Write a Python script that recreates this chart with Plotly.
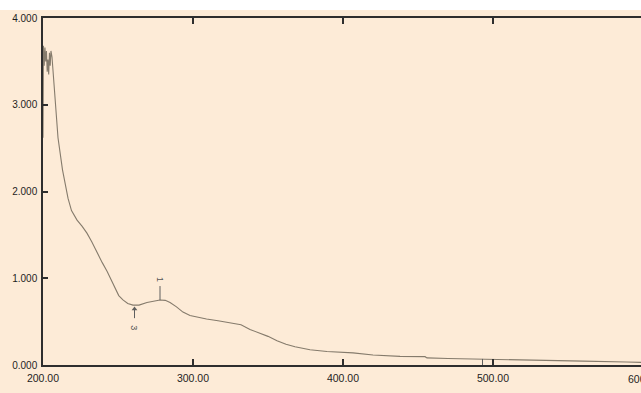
import plotly.graph_objects as go

wavelength = [200, 200.3, 200.8, 201.3, 201.8, 202.3, 202.8, 203.3, 203.8, 204.3, 204.8, 205.3,
              206, 207, 208, 210, 213, 216.7, 219, 222.7, 226, 229.3, 232.5, 236, 239.5, 242.7,
              245.5, 248, 250.5, 253.3, 256.5, 260, 264, 269.3, 274, 278, 281.5, 284.7, 289,
              293.3, 298, 302.7, 309, 316.7, 325, 332, 338, 344.7, 350, 356, 362, 368, 378,
              389.3, 400, 406.7, 420, 438, 454.7, 456, 470, 483, 500, 526.7, 560, 589, 600]
absorbance = [2.62, 3.68, 3.45, 3.66, 3.50, 3.62, 3.38, 3.52, 3.35, 3.60, 3.45, 3.62,
              3.55, 3.30, 3.05, 2.62, 2.25, 1.92, 1.78, 1.67, 1.60, 1.52, 1.42, 1.29, 1.18, 1.08,
              0.98, 0.88, 0.80, 0.75, 0.71, 0.69, 0.69, 0.72, 0.74, 0.75, 0.745, 0.72, 0.67,
              0.61, 0.57, 0.55, 0.53, 0.51, 0.49, 0.465, 0.41, 0.37, 0.33, 0.28, 0.24, 0.21, 0.175,
              0.155, 0.145, 0.14, 0.115, 0.10, 0.096, 0.082, 0.075, 0.07, 0.065, 0.05, 0.045, 0.035, 0.03]

x_ticks = [200, 300, 400, 500, 600]
x_tick_labels = ["200.00", "300.00", "400.00", "500.00", "600.00"]
y_ticks = [0, 1, 2, 3, 4]
y_tick_labels = ["0.000", "1.000", "2.000", "3.000", "4.000"]

peak_label = ("1", 278, 0.75)
valley_label = ("3", 261, 0.69)

curve_color = "#857b6c"
axis_color = "#2e2e2e"
marker_color = "#5e5e5e"
bg = "#fdebd7"
font = dict(family="Liberation Sans, Arial, sans-serif", size=10, color="#1e1e1e")

fig = go.Figure()
fig.add_trace(go.Scatter(x=wavelength, y=absorbance, mode="lines",
                         line=dict(color=curve_color, width=1.1), hoverinfo="skip"))
# small marker line near 493 nm
fig.add_trace(go.Scatter(x=[493, 493], y=[0, 0.07], mode="lines",
                         line=dict(color=marker_color, width=1), hoverinfo="skip"))

# peak marker "1"
fig.add_trace(go.Scatter(x=[peak_label[1], peak_label[1]], y=[peak_label[2], peak_label[2] + 0.16],
                         mode="lines", line=dict(color=marker_color, width=1), hoverinfo="skip"))
fig.add_annotation(x=peak_label[1], y=peak_label[2] + 0.24, text=peak_label[0], showarrow=False,
                   textangle=90, font=dict(family=font["family"], size=9, color="#555555"))
# valley marker "3" (line + small up arrowhead)
fig.add_trace(go.Scatter(x=[valley_label[1], valley_label[1]], y=[valley_label[2] - 0.15, valley_label[2] - 0.03],
                         mode="lines", line=dict(color=marker_color, width=1), hoverinfo="skip"))
fig.add_trace(go.Scatter(x=[valley_label[1]], y=[valley_label[2] - 0.045], mode="markers",
                         marker=dict(symbol="triangle-up", size=5, color=marker_color), hoverinfo="skip"))
fig.add_annotation(x=valley_label[1], y=valley_label[2] - 0.26, text=valley_label[0], showarrow=False,
                   textangle=90, font=dict(family=font["family"], size=9, color="#555555"))

# partial 600.00 label at right edge
fig.add_annotation(x=1.005, xref="paper", y=0, yref="paper", yanchor="top", yshift=-6,
                   text=x_tick_labels[-1], showarrow=False,
                   font=dict(family=font["family"], size=10.5, color=font["color"]),
                   xanchor="center")

# beige page area below a thin white strip at the top
fig.add_shape(type="rect", xref="paper", yref="paper", x0=-0.2, x1=1.2, y0=-0.2, y1=1.0 + 8/347,
              fillcolor=bg, line=dict(width=0), layer="below")

fig.update_layout(
    width=641, height=393,
    margin=dict(l=43, r=0, t=18, b=28),
    paper_bgcolor="white", plot_bgcolor=bg,
    showlegend=False,
    font=font,
    xaxis=dict(range=[200, 598.67], tickvals=x_ticks[:-1], ticktext=x_tick_labels[:-1],
               tickfont=dict(size=10.5), ticklabelstandoff=3,
               showgrid=False, zeroline=False, showline=True, linecolor=axis_color, linewidth=1.5,
               mirror="ticks", ticks="inside", ticklen=6, tickcolor=axis_color, tickwidth=1.5),
    yaxis=dict(range=[0, 4], tickvals=y_ticks, ticktext=y_tick_labels, ticklabelstandoff=2,
               showgrid=False, zeroline=False, showline=True, linecolor=axis_color, linewidth=1.5,
               ticks="inside", ticklen=5, tickcolor=axis_color, tickwidth=1.5),
)

fig.write_html("out.html")
